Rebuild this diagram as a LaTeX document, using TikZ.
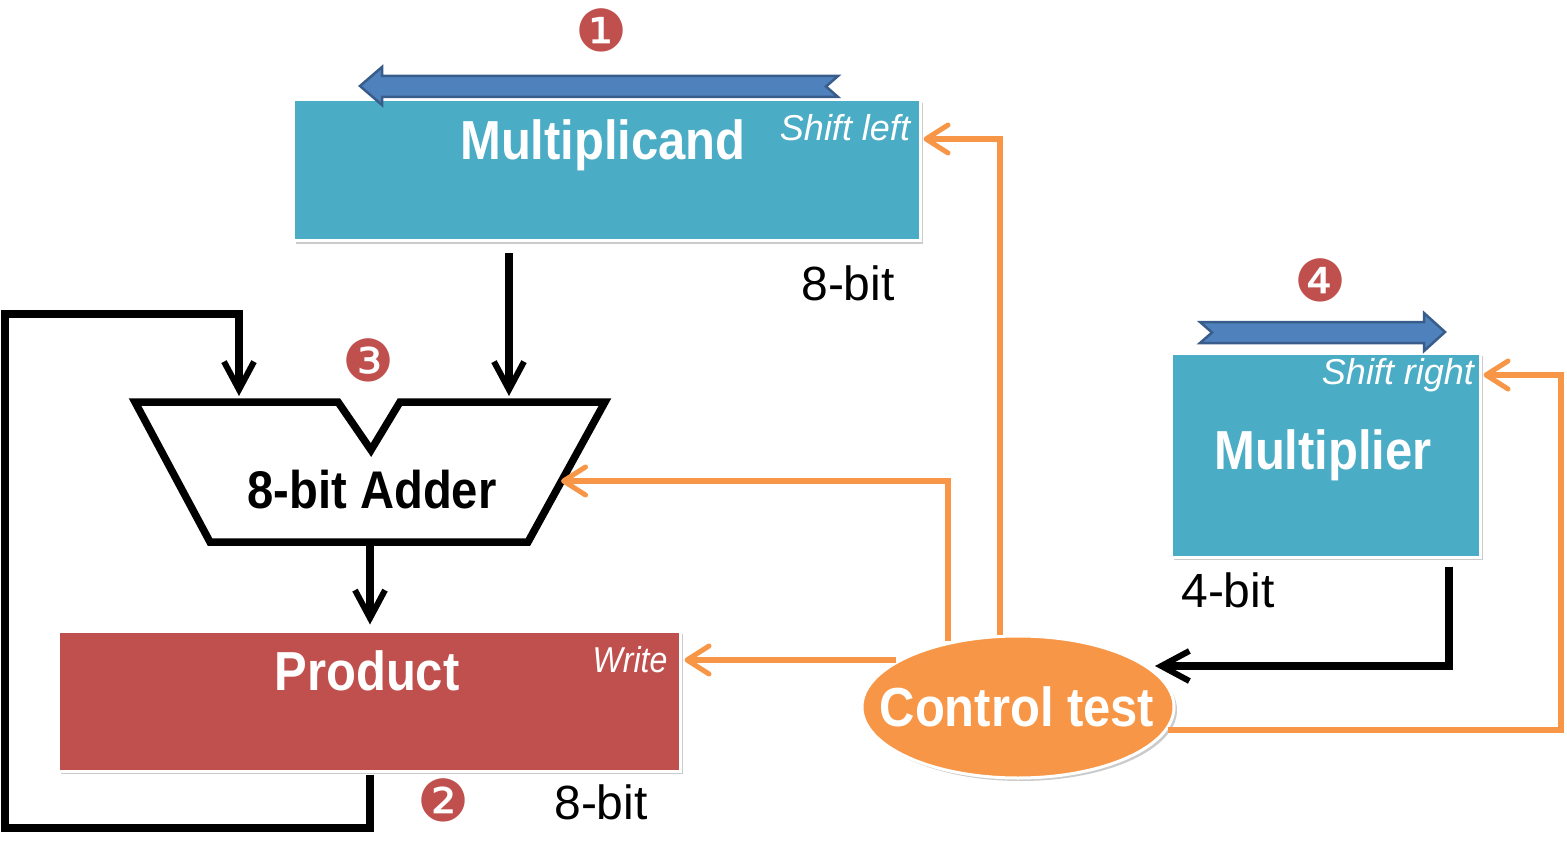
\documentclass[tikz,border=0pt]{standalone}
\usepackage{fontspec}
\setmainfont{Liberation Sans}
\newfontfamily\dvs{DejaVu Sans}
\usetikzlibrary{arrows.meta,shapes.geometric,shadows,calc}
\definecolor{tealbox}{HTML}{4BACC6}
\definecolor{redbox}{HTML}{C0504D}
\definecolor{orng}{HTML}{F79646}
\definecolor{bluefill}{HTML}{4F81BD}
\definecolor{blueline}{HTML}{385D8A}
\newcommand\condtext[1]{\scalebox{0.89}[1]{#1}}
\begin{document}
\begin{tikzpicture}[x=1pt,y=-1pt,
  box/.style={draw=white,line width=3pt,inner sep=0pt,
    drop shadow={shadow xshift=3pt,shadow yshift=-3pt,fill=black!45,opacity=.45}},
  title/.style={text=white,font=\fontsize{55pt}{60pt}\selectfont\bfseries,inner sep=0pt},
  tag/.style={text=white,font=\fontsize{36pt}{40pt}\selectfont\itshape,inner sep=0pt},
  bits/.style={text=black,font=\fontsize{48pt}{54pt}\selectfont,inner sep=0pt},
  num/.style={text=redbox,font=\dvs\fontsize{58pt}{58pt}\selectfont,inner sep=0pt},
  blk/.style={line width=7.5pt,draw=black,-{Straight Barb[length=28pt,width=30pt,line width=6pt]}},
  org/.style={line width=5.5pt,draw=orng,-{Straight Barb[length=22pt,width=28pt,line width=5pt,round]}},
  barrow/.style={draw=blueline,fill=bluefill,line width=2.5pt,line join=miter}
]
\useasboundingbox (0,0) rectangle (1567,861);

% boxes
\node[box,fill=tealbox,minimum width=627pt,minimum height=141pt] (mcand) at (606.5,170.5) {};
\node[box,fill=tealbox,minimum width=309pt,minimum height=204pt] (mplier) at (1325.5,455) {};
\node[box,fill=redbox,minimum width=622pt,minimum height=140pt] (prod) at (369,701) {};

% texts in boxes
\node[title] (tmcand) at (603,145) {\condtext{Multiplicand}};
\node[tag] (tshl) at (845,128) {Shift left};
\node[title] (tmplier) at (1323,455) {\condtext{Multiplier}};
\node[tag] (tshr) at (1398,375) {Shift right};
\node[title] (tprod) at (367,671) {\condtext{Product}};
\node[tag] (twrite) at (630,660) {\condtext{Write}};

% bit labels
\node[bits] (b1) at (848,283) {8-bit};
\node[bits] (b2) at (1228,590) {4-bit};
\node[bits] (b3) at (601,802) {8-bit};

% numbers
\node[num] (n1) at (601,30) {❶};
\node[num] (n2) at (443,800) {❷};
\node[num] (n3) at (368,360) {❸};
\node[num] (n4) at (1320,280) {❹};

% blue shift arrows
\draw[barrow] (360,86) -- (382,67) -- (382,76) -- (838,76) -- (826,86.5) -- (838,97) -- (382,97) -- (382,105) -- cycle;
\draw[barrow] (1445,332) -- (1424,313) -- (1424,322) -- (1200,322) -- (1212,332.5) -- (1200,343) -- (1424,343) -- (1424,351) -- cycle;

% adder
\draw[line width=7.5pt,fill=white,line join=miter] (135,402) -- (338,402) -- (371,450) -- (400,402) -- (605,402) -- (528,542) -- (210,542) -- cycle;
\node[text=black,font=\fontsize{53pt}{58pt}\selectfont\bfseries,inner sep=0pt] (adder) at (372,490) {\condtext{8-bit Adder}};
\coordinate (addA) at (239,396);
\coordinate (addB) at (509,396);
\coordinate (addR) at (561,481);
\coordinate (addOut) at (370,546);

% control ellipse
\node[ellipse,draw=white,line width=3pt,fill=orng,minimum width=312pt,minimum height=142pt,inner sep=0pt,
  drop shadow={shadow xshift=3pt,shadow yshift=-3pt,fill=black!45,opacity=.45}] (ctrl) at (1018,707) {};
\node[title] (tctrl) at (1017,707) {\condtext{Control test}};

% black connectors
\draw[blk] ([yshift=-11pt]mcand.south -| addB) -- (addB);
\draw[blk] (addOut) -- ([yshift=5pt]prod.north -| addOut);
\draw[blk] ([yshift=-2pt]prod.south -| addOut) -- (370,828) -- (5,828) -- (5,314) -- (239,314) -- (addA);
\draw[blk] ([yshift=-8pt]mplier.south -| 1449,0) -- (1449,666) -- (1155,666);

% orange connectors
\draw[org] (ctrl.north -| 1000,0) -- (1000,139) -- ([xshift=2pt]mcand.east |- 0,139);
\draw[org] (948,641) -- (948,481) -- (addR);
\draw[org] (896,660) -- ([xshift=3pt]prod.east |- 0,660);
\draw[org] (1168,730) -- (1561,730) -- (1561,375) -- ([xshift=2pt]mplier.east |- 0,375);
\end{tikzpicture}
\end{document}
